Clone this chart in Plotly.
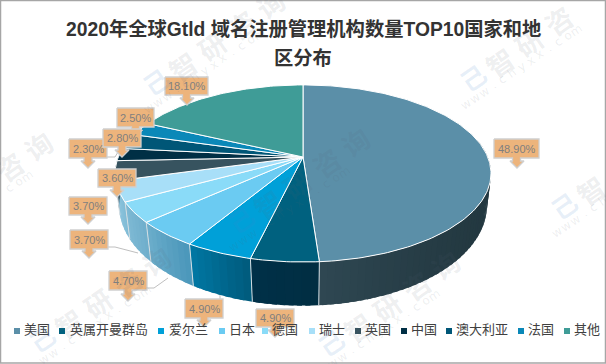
import math
import plotly.graph_objects as go

# ---------- data ----------
categories = ["美国", "英属开曼群岛", "爱尔兰", "日本", "德国", "瑞士", "英国", "中国", "澳大利亚", "法国", "其他"]
values = [48.9, 4.9, 4.9, 4.7, 3.7, 3.7, 3.6, 2.3, 2.8, 2.5, 18.1]
top_colors = ["#5B8FA8", "#00617F", "#00A0D8", "#6BCBF2", "#8ADBF8", "#A8DFF8", "#37535F", "#002F45", "#005677", "#0A88B8", "#3F9C97"]
side_left = ["#2F4853", "#003048", "#0078A4", "#6CAECB", "#7FBAD5", "#8FC6DF", "#37535F", "#002F45", "#005677", "#0A88B8", "#3F9C97"]
side_right = ["#22373F", "#012E42", "#005A7C", "#4A96BA", "#6FAECB", "#80BBD5", "#37535F", "#002F45", "#005677", "#0A88B8", "#3F9C97"]
title_lines = ["2020年全球Gtld 域名注册管理机构数量TOP10国家和地", "区分布"]

# label box: text, x0, y0, x1, y1, arrow tip x, arrow tip y (drawn in this order)
callouts = [
    ("48.90%", 494, 139, 539, 158, 517, 168),
    ("4.90%", 256, 309, 294, 327, 275, 337),
    ("4.90%", 185, 299, 223, 318, 204, 327),
    ("4.70%", 109, 271, 147, 290, 128, 301),
    ("3.70%", 70, 230, 108, 249, 89, 258),
    ("3.70%", 69, 197, 107, 215, 88, 224),
    ("3.60%", 98, 169, 136, 187, 117, 197),
    ("2.30%", 69, 139, 107, 158, 88, 168),
    ("2.50%", 117, 108, 154, 127, 135, 137),
    ("2.80%", 103, 129, 141, 147, 122, 157),
    ("18.10%", 165, 77, 208, 95, 187, 105),
]
leaders = [
    ([137, 143], [135, 130]),
    ([107, 115, 118], [157, 157, 152]),
    ([108, 115, 138], [247, 247, 253]),
    ([147, 154, 168], [288, 288, 278]),
    ([220, 220], [299, 295]),
]
legend_x = [17, 62, 161, 222, 265, 312, 358, 404, 449, 521, 567]
legend_text_x = [24, 70, 169, 229, 272, 319, 365, 411, 456, 528, 574]
legend_y = 331

watermark_chars = "智研咨询"
watermark_url = "www.chyxx.com"
watermark_tiles = [(182, 66), (499, 62), (-50, 208), (267, 204), (590, 190), (68, 323), (357, 327)]

# ---------- projection of the pie disc ----------
CX = 303
TOP = dict(a=157.0, b=56.3, k=-0.186, A=184.7)
BOT = dict(a=188.3, b=65.4, k=-0.17, A=181.3)


def project(theta, disc):
    u, v = math.sin(theta), -math.cos(theta)
    d = 1 + disc["k"] * v
    return CX + disc["A"] * u / d, (disc["a"] + disc["b"] * v) / d


def mix(c1, c2, t):
    a = [int(c1[i:i + 2], 16) for i in (1, 3, 5)]
    b = [int(c2[i:i + 2], 16) for i in (1, 3, 5)]
    return "#%02X%02X%02X" % tuple(round(p + (q - p) * t) for p, q in zip(a, b))


total = sum(values)
bounds = [0.0]
for val in values:
    bounds.append(bounds[-1] + val / total * 2 * math.pi)

fig = go.Figure()
SIDE_FROM, SIDE_TO = math.radians(78), math.radians(282)

# side wall, gradient strips (each strip overlaps the next to hide seams)
for i in range(len(values)):
    t0, t1 = max(bounds[i], SIDE_FROM), min(bounds[i + 1], SIDE_TO)
    if t1 <= t0:
        continue
    steps = max(3, int((t1 - t0) / math.radians(2)))
    for s in range(steps):
        a0 = t0 + (t1 - t0) * s / steps
        a1 = min(t1, t0 + (t1 - t0) * (s + 1.6) / steps)
        f = ((s + 0.5) / steps) ** 3 if i == 0 else (s + 0.5) / steps
        col = mix(side_right[i], side_left[i], f)
        p = [project(a0 + (a1 - a0) * h / 3, TOP) for h in range(4)]
        p += [project(a1 - (a1 - a0) * h / 3, BOT) for h in range(4)]
        xs = [q[0] for q in p] + [p[0][0]]
        ys = [q[1] for q in p] + [p[0][1]]
        fig.add_trace(go.Scatter(x=xs, y=ys, mode="lines", fill="toself", fillcolor=col,
                                 line=dict(width=0), hoverinfo="skip", showlegend=False))

# side wall separators
for b in bounds:
    if SIDE_FROM < b < SIDE_TO:
        p, q = project(b, TOP), project(b, BOT)
        fig.add_trace(go.Scatter(x=[p[0], q[0]], y=[p[1], q[1]], mode="lines",
                                 line=dict(color="#D3DDE2", width=1), hoverinfo="skip", showlegend=False))

# top face
for i, name in enumerate(categories):
    n = max(4, int((bounds[i + 1] - bounds[i]) / math.radians(1)))
    pts = [project(bounds[i] + (bounds[i + 1] - bounds[i]) * j / n, TOP) for j in range(n + 1)]
    apex = (CX, TOP["a"])
    xs = [apex[0]] + [q[0] for q in pts] + [apex[0]]
    ys = [apex[1]] + [q[1] for q in pts] + [apex[1]]
    fig.add_trace(go.Scatter(x=xs, y=ys, mode="lines", fill="toself", fillcolor=top_colors[i], name=name,
                             line=dict(color="#FFFFFF", width=1), hoverinfo="name", showlegend=False))

# leader lines
for lx, ly in leaders:
    fig.add_trace(go.Scatter(x=lx, y=ly, mode="lines", line=dict(color="#BFBFBF", width=1),
                             hoverinfo="skip", showlegend=False))

# callouts
shapes = []
annotations = []
for text, x0, y0, x1, y1, tx, ty in callouts:
    cxm = (x0 + x1) / 2
    head = ty - 7
    xs = [x0, x1, x1, cxm + 4, cxm + 4, tx + 7, tx, tx - 7, cxm - 4, cxm - 4, x0, x0]
    ys = [y0, y0, y1, y1, head, head, ty, head, head, y1, y1, y0]
    fig.add_trace(go.Scatter(x=xs, y=ys, mode="lines", fill="toself", fillcolor="#EDB47C",
                             line=dict(color="#CFCFCF", width=1.3), hoverinfo="skip", showlegend=False))
    annotations.append(dict(x=cxm, y=(y0 + y1) / 2, xref="x", yref="y", text=text, showarrow=False,
                            font=dict(family="Liberation Sans", size=11, color="#7F7F7F")))

# frame
shapes.append(dict(type="rect", x0=0.5, y0=0.5, x1=605.5, y1=363, xref="x", yref="y",
                   line=dict(color="#A6A6A6", width=1.5), layer="above"))

# legend: markers, then their names, on top of the callouts
fig.add_trace(go.Scatter(x=legend_x, y=[legend_y] * len(legend_x), mode="markers",
                         marker=dict(symbol="square", size=6, color=top_colors),
                         hoverinfo="skip", showlegend=False))
fig.add_trace(go.Scatter(x=legend_text_x, y=[legend_y] * len(legend_x), mode="text", text=categories,
                         textposition="middle right", cliponaxis=False,
                         textfont=dict(family="Noto Sans CJK SC", size=13, color="#404040"),
                         hoverinfo="skip", showlegend=False))

# title
TF = dict(family="Liberation Sans, Noto Sans CJK SC", size=19.3, color="#333333")
for text, y in zip(title_lines, (29, 58)):
    annotations.append(dict(x=303, y=y, xref="x", yref="y", text=f"<b>{text}</b>", showarrow=False, font=TF))

# watermark
WM = "rgba(90,100,115,0.11)"
for ox, oy in watermark_tiles:
    for j, ch in enumerate(watermark_chars):
        x, y = ox + j * 29.5, oy - j * 20.7
        if 0 <= x <= 606 and 0 <= y <= 364:
            annotations.append(dict(x=x, y=y, xref="x", yref="y", text=f"<b>{ch}</b>", showarrow=False, textangle=-35,
                                    font=dict(family="Noto Sans CJK SC", size=27, color=WM)))
    for j, ch in enumerate(watermark_url):
        x, y = ox - 33 + j * 9.2, oy + 42 - j * 6.2
        if 0 <= x <= 606 and 0 <= y <= 364:
            annotations.append(dict(x=x, y=y, xref="x", yref="y", text=ch, showarrow=False, textangle=-35,
                                    font=dict(family="DejaVu Sans", size=12, color=WM)))
    x, y = ox - 27, oy + 15
    if 0 <= x <= 606 and 0 <= y <= 364:
        annotations.append(dict(x=x, y=y, xref="x", yref="y", text="<b>己</b>", showarrow=False, textangle=-35,
                                font=dict(family="Noto Sans CJK SC", size=25, color="rgba(70,130,200,0.13)")))

fig.update_layout(
    width=606, height=364, margin=dict(l=0, r=0, t=0, b=0),
    paper_bgcolor="#FFFFFF", plot_bgcolor="#FFFFFF", showlegend=False,
    xaxis=dict(range=[0, 606], visible=False, fixedrange=True),
    yaxis=dict(range=[364, 0], visible=False, fixedrange=True),
    shapes=shapes, annotations=annotations,
)
fig.write_html("out.html", post_script="document.body.style.margin='0';", config=dict(displayModeBar=False))
